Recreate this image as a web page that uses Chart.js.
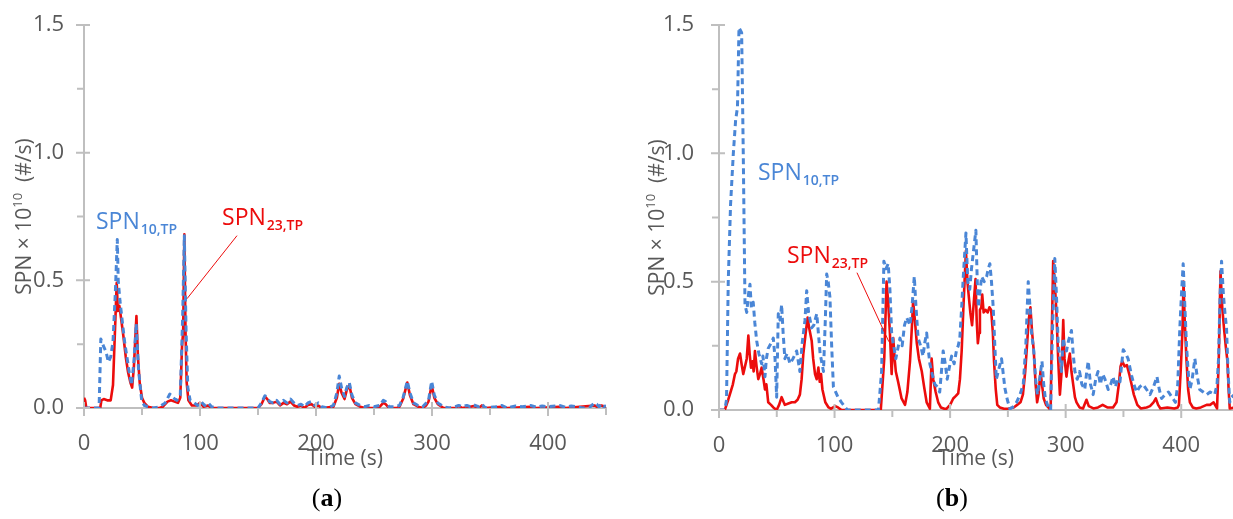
<!DOCTYPE html>
<html>
<head>
<meta charset="utf-8">
<script src="https://cdn.jsdelivr.net/npm/chart.js@4.4.1/dist/chart.umd.min.js"></script>
<style>
  html, body { margin: 0; padding: 0; background: #fff; }
  body { width: 1233px; height: 519px; position: relative; overflow: hidden; }
  canvas { position: absolute; top: 0; }
  #chartA { left: 0; }
  #chartB { left: 620px; }
</style>
</head>
<body>
<canvas id="chartA" width="620" height="519"></canvas>
<canvas id="chartB" width="633" height="519"></canvas>
<script>
// ---- données ----
// (a) SPN10,TP
const timeA10 = [0,13,14.5,17,19,21,23,25,27,28.7,29.5,31,33,35,37,39,41,43,45,47,49.7,52,55,60,65,70,74,77,80,83,85,86.5,88,89.5,91.5,95,98,101,104,107,110,115,150,153,156,158,160,163,166,169,172,175,178,181,184,187,190,193,196,199,202,205,210,215,218,220,222,224.6,226.5,228.7,231,234,238,242,246,250,255,258,260,263,268,272,275,278.7,281,284,288,292,295,297,299.7,302,305,310,315,320,323,326,330,333,336,340,343,346,355,360,365,372,378,385,390,395,400,410,415,420,425,430,436,440,442,444,446,448,450];
const spnA10  = [0,0,0.27,0.24,0.22,0.18,0.2,0.26,0.45,0.66,0.5,0.42,0.34,0.26,0.2,0.14,0.09,0.18,0.33,0.15,0.03,0.01,0.005,0,0.005,0.02,0.055,0.04,0.03,0.05,0.35,0.675,0.3,0.08,0.03,0.02,0.01,0.025,0.01,0.02,0.005,0,0,0.02,0.048,0.04,0.025,0.02,0.03,0.015,0.03,0.02,0.035,0.02,0.01,0.015,0.005,0.02,0.025,0.01,0.02,0.005,0,0.01,0.06,0.125,0.08,0.045,0.08,0.1,0.05,0.02,0.01,0.005,0.01,0.005,0.01,0.03,0.025,0.005,0.005,0.01,0.04,0.105,0.06,0.02,0.01,0.005,0.02,0.03,0.105,0.05,0.02,0.005,0,0.005,0.01,0.005,0.01,0.005,0.012,0.005,0.015,0,0.005,0.01,0,0.008,0.005,0.01,0.003,0.008,0.005,0.01,0.003,0.008,0.005,0,0.003,0.02,0.015,0.005,0.015,0.005,0.01];
// (a) SPN23,TP
const timeA23 = [0,1,2,14,15,17,20,23,25,27,28.2,29.2,30.5,32,34,36,38,40,41.5,43,45.2,46.5,48,50,52,55,60,65,68,72,75,78,81,83,84.5,85.5,86.5,87.5,88.5,90,93,97,100,103,107,110,150,153,156,158,160,163,166,169,172,175,178,181,184,187,190,193,196,199,202,205,215,218,220,222,224.6,226.5,228.7,231,234,238,242,250,255,258,260,263,270,272,275,278.7,281,284,288,292,295,297,299.7,302,305,310,320,323,326,333,336,340,343,346,360,365,385,390,410,415,440,442,446,450];
const spnA23  = [0.04,0.03,0,0,0.03,0.035,0.03,0.03,0.09,0.34,0.49,0.38,0.4,0.35,0.28,0.2,0.14,0.1,0.08,0.16,0.36,0.2,0.1,0.04,0.02,0.005,0,0,0.005,0.025,0.03,0.025,0.02,0.04,0.24,0.3,0.68,0.3,0.1,0.03,0.01,0.01,0.02,0.005,0.01,0,0,0.015,0.045,0.035,0.02,0.02,0.025,0.01,0.02,0.015,0.025,0.01,0.005,0.01,0,0.012,0.015,0.005,0.01,0,0.005,0.04,0.095,0.06,0.035,0.07,0.09,0.04,0.015,0.005,0,0,0.005,0.02,0.015,0,0,0.005,0.035,0.1,0.05,0.015,0.005,0,0.01,0.025,0.09,0.04,0.015,0,0,0.008,0,0.005,0.008,0,0.01,0,0.005,0,0.005,0,0.005,0,0.01,0.005,0.01,0.005];
// (b) SPN10,TP
const timeB10 = [0,5,6.5,8,10,12.4,14.4,16,17.3,19.6,21,22.5,24,25.5,26.8,28,29.6,31,32.6,34.5,36.9,38,39.8,41,42.6,45,47,48.5,49.9,51.3,52.8,54.2,55.5,57,59,61.4,64,67.2,70,72,74.4,75.9,77.5,80.2,82,84.6,86,87.5,90.4,92,93.2,94.5,96,97.5,99,101,103,106,111,138,140.7,142.7,144.5,146.4,147.9,149.4,150.8,153,156.6,158.5,160.5,162.4,165.3,167,169,170.5,172.3,174.5,176.6,178,179.7,181,182.5,184.5,186.8,189,191,192.5,194,195.8,197.5,199.5,201.3,203.5,205.6,207,208.4,210,211.4,213.7,215.3,217,218.5,220,222.3,223.5,224.4,225.8,227.3,229.5,231.6,233,234.4,235.8,237.3,238.7,240,242.2,244.5,246,247.4,249.5,251.7,254,257.5,260.5,263.3,265.5,267.6,269.5,270.5,272.4,274,275.5,277.5,279.5,281,282.4,285,287,288.5,290.6,292,293.5,295,296.4,297.8,299,300.7,302.5,305,306.5,308,310,312,314,316.5,318,319.5,321.5,323.8,326,328,330,332,334,336.8,339,341,343,345,347,348.5,349.8,352,354,357,359,361.4,364,367,370,373,376,379,381,383,386,389,392,395,397,398.8,400.2,401.7,403,404.6,406,407.5,409.5,411.8,413.5,416,419,422,425,429,431,432.3,433.6,434.9,436.5,437.8,439.2,440.5,442,443.5,446];
const spnB10  = [0,0,0.04,0.5,0.8,1.0,1.13,1.18,1.49,1.47,1.0,0.41,0.38,0.45,0.49,0.4,0.42,0.34,0.27,0.22,0.18,0.21,0.13,0.2,0.24,0.26,0.28,0.2,0.05,0.375,0.35,0.41,0.3,0.2,0.22,0.18,0.2,0.23,0.15,0.26,0.35,0.465,0.38,0.32,0.33,0.375,0.3,0.22,0.15,0.35,0.53,0.5,0.44,0.25,0.09,0.07,0.05,0.03,0,0,0.15,0.58,0.55,0.57,0.47,0.3,0.26,0.2,0.28,0.25,0.33,0.36,0.33,0.4,0.52,0.4,0.28,0.25,0.21,0.26,0.3,0.24,0.18,0.14,0.1,0.09,0.07,0.15,0.23,0.18,0.12,0.17,0.21,0.18,0.235,0.25,0.28,0.4,0.52,0.69,0.5,0.47,0.55,0.61,0.7,0.5,0.4,0.46,0.52,0.5,0.52,0.55,0.57,0.5,0.4,0.25,0.12,0.16,0.2,0.14,0.085,0.04,0.005,0.01,0.03,0.06,0.1,0.25,0.5,0.38,0.3,0.23,0.12,0.06,0.12,0.19,0.1,0.045,0.01,0,0.3,0.59,0.45,0.26,0.2,0.15,0.28,0.25,0.23,0.27,0.31,0.22,0.15,0.12,0.15,0.1,0.08,0.14,0.19,0.1,0.06,0.12,0.15,0.1,0.14,0.12,0.08,0.1,0.13,0.09,0.12,0.11,0.18,0.235,0.22,0.2,0.135,0.1,0.07,0.09,0.1,0.08,0.06,0.09,0.13,0.08,0.045,0.06,0.07,0.05,0.03,0.1,0.32,0.45,0.57,0.42,0.25,0.15,0.08,0.12,0.2,0.14,0.08,0.07,0.06,0.07,0.06,0.1,0.2,0.45,0.58,0.45,0.38,0.32,0.15,0.03,0.05,0.06];
// (b) SPN23,TP
const timeB23 = [0,5,6.5,8,10,12,13.8,15,16.5,18.2,19.5,21,22.5,24,25.4,26.5,27.7,29,30,31.1,32.5,34,35.5,36.9,38.5,39.8,41,42.6,45,47,49.9,52,54.2,56,57,60,63,65.7,68,70,71.5,73,75,76.7,78,80.2,81.5,83.1,84.5,86,87.2,88.3,89.5,92,94.8,97,100.6,103,106,140,141.5,143,144,145,146.4,147.9,149.4,150.8,152,153,155,158,161,163,165.3,167,168,169.5,171.2,173,175.5,177.5,179.7,182.5,184,185.4,187.5,189.7,192,195,197,200,202.7,205,207,208.5,210,211.5,213.7,215,216,217.5,219,220.5,222,223,224,225,225.8,227,227.8,229,230.7,232.5,234,235.5,237,238,239.5,240.8,243,246.6,250,255,258,260.9,263,265,266.5,268,269.5,271,272.4,274,275.3,276.5,278.2,279.5,281,283,285,287,288,289.2,290.5,292,293.5,295,296.5,297.9,299,300.7,302,303.6,305,306.5,308,309.4,312,315,318,320,324,328,332,336,341,344,346,347.5,349,351,353,355,357,359,362,365,370,373,376,378,380,382,388,394,397,398,399.5,401,402,403,404.6,406,407.5,410,413,417,422,425,428,431,432.5,434,435.5,437,438.5,440,441,442,446];
const spnB23  = [0,0,0.02,0.04,0.07,0.1,0.14,0.15,0.2,0.22,0.18,0.14,0.17,0.2,0.29,0.22,0.165,0.19,0.15,0.23,0.17,0.12,0.14,0.165,0.12,0.08,0.1,0.03,0.02,0.01,0,0.02,0.05,0.03,0.02,0.025,0.03,0.03,0.04,0.06,0.12,0.22,0.3,0.36,0.32,0.27,0.2,0.14,0.12,0.165,0.11,0.14,0.08,0.03,0.01,0.005,0.015,0.01,0,0,0.1,0.2,0.35,0.5,0.42,0.3,0.14,0.28,0.2,0.15,0.11,0.045,0.02,0.07,0.19,0.33,0.425,0.35,0.26,0.2,0.15,0.09,0.03,0.005,0.2,0.12,0.07,0.03,0.01,0.005,0.005,0.02,0.045,0.055,0.065,0.12,0.23,0.4,0.62,0.5,0.45,0.38,0.33,0.42,0.51,0.35,0.26,0.3,0.39,0.4,0.45,0.38,0.39,0.38,0.4,0.39,0.3,0.19,0.08,0.02,0.01,0.005,0.005,0.01,0.02,0.03,0.06,0.15,0.25,0.35,0.4,0.3,0.23,0.1,0.03,0.06,0.15,0.1,0.045,0.02,0.01,0,0.3,0.58,0.5,0.38,0.2,0.06,0.15,0.35,0.2,0.13,0.18,0.22,0.15,0.1,0.05,0.03,0.01,0.006,0.04,0.015,0.006,0.01,0.02,0.01,0.01,0.03,0.1,0.17,0.19,0.17,0.175,0.14,0.1,0.06,0.02,0.006,0.01,0.015,0.03,0.045,0.02,0.006,0.01,0.006,0.01,0.02,0.15,0.3,0.5,0.35,0.19,0.08,0.03,0.01,0.006,0.01,0.02,0.02,0.03,0.006,0.2,0.54,0.4,0.32,0.25,0.19,0.08,0.006,0.01];

// graduations
const yMajorTicks = [0, 0.5, 1.0, 1.5];
const yMinorTicks = [0.25, 0.75, 1.25];
const xMajorTicks = [0, 100, 200, 300, 400];
const xMinorTicks = [50, 150, 250, 350, 450];

const BLEU = '#4a86d6';
const ROUGE = '#ec0c0c';
const GRIS_TEXTE = '#595959';
const GRIS_AXE = '#bfbfbf';
const POLICE = "'Open Sans', 'Noto Sans', sans-serif";

const toPoints = (xs, ys) => xs.map((t, i) => ({ x: t, y: ys[i] }));

// plugin maison : graduations, titres d'axes, étiquettes et légende (a)/(b)
const decor = {
  id: 'decor',
  afterDraw(chart, args, o) {
    const { ctx, chartArea: ca, scales: { x, y } } = chart;
    ctx.save();
    // graduations
    ctx.strokeStyle = GRIS_AXE;
    ctx.lineWidth = 2;
    ctx.beginPath();
    yMajorTicks.forEach(v => { const p = y.getPixelForValue(v); ctx.moveTo(ca.left - 8, p); ctx.lineTo(ca.left + 6, p); });
    yMinorTicks.forEach(v => { const p = y.getPixelForValue(v); ctx.moveTo(ca.left - 7, p); ctx.lineTo(ca.left, p); });
    xMajorTicks.forEach(v => { const p = x.getPixelForValue(v); ctx.moveTo(p, ca.bottom - 6); ctx.lineTo(p, ca.bottom + 8); });
    xMinorTicks.forEach(v => { if (v <= x.max) { const p = x.getPixelForValue(v); ctx.moveTo(p, ca.bottom); ctx.lineTo(p, ca.bottom + 7); } });
    ctx.stroke();

    // titre axe X
    ctx.fillStyle = GRIS_TEXTE;
    ctx.font = `21px ${POLICE}`;
    ctx.textAlign = 'center';
    ctx.textBaseline = 'alphabetic';
    ctx.fillText('Time (s)', (ca.left + ca.right) / 2 + o.xTitleShift, o.xTitleY);

    // titre axe Y (tourné) avec exposant
    ctx.save();
    ctx.translate(o.yTitleX, (ca.top + ca.bottom) / 2);
    ctx.rotate(-Math.PI / 2);
    const p1 = 'SPN × 10', p2 = '10', p3 = '  (#/s)';
    ctx.font = `21px ${POLICE}`;
    const w1 = ctx.measureText(p1).width, w3 = ctx.measureText(p3).width;
    ctx.font = `13px ${POLICE}`;
    const w2 = ctx.measureText(p2).width;
    let cx = -(w1 + w2 + w3) / 2;
    ctx.textAlign = 'left';
    ctx.font = `21px ${POLICE}`;
    ctx.fillText(p1, cx, 7); cx += w1;
    ctx.font = `13px ${POLICE}`;
    ctx.fillText(p2, cx, -2); cx += w2;
    ctx.font = `21px ${POLICE}`;
    ctx.fillText(p3, cx, 7);
    ctx.restore();

    // trait de rappel
    if (o.pointer) {
      const [t1, v1, t2, v2] = o.pointer;
      ctx.strokeStyle = ROUGE;
      ctx.lineWidth = 1;
      ctx.beginPath();
      ctx.moveTo(x.getPixelForValue(t1), y.getPixelForValue(v1));
      ctx.lineTo(x.getPixelForValue(t2), y.getPixelForValue(v2));
      ctx.stroke();
    }

    // étiquettes des séries
    o.labels.forEach(l => {
      const px = x.getPixelForValue(l.t), py = y.getPixelForValue(l.v);
      ctx.fillStyle = l.color;
      ctx.textAlign = 'left';
      ctx.font = `23px ${POLICE}`;
      ctx.fillText(l.text, px, py);
      const w = ctx.measureText(l.text).width;
      ctx.font = `600 14px ${POLICE}`;
      ctx.fillText(l.sub, px + w + 1, py + 5);
    });

    // (a) / (b)
    const serif = "'Liberation Serif', 'DejaVu Serif', serif";
    ctx.fillStyle = '#000';
    ctx.font = `26px ${serif}`;
    const wp = ctx.measureText('(').width;
    ctx.font = `bold 26px ${serif}`;
    const wl = ctx.measureText(o.caption).width;
    let sx = o.captionX - (2 * wp + wl) / 2;
    ctx.textAlign = 'left';
    ctx.font = `26px ${serif}`;
    ctx.fillText('(', sx, 506);
    ctx.font = `bold 26px ${serif}`;
    ctx.fillText(o.caption, sx + wp, 506);
    ctx.font = `26px ${serif}`;
    ctx.fillText(')', sx + wp + wl, 506);
    ctx.restore();
  }
};

function construireGraphe(id, t10, s10, t23, s23, cfg) {
  const H = 519;
  return new Chart(document.getElementById(id), {
    type: 'line',
    data: {
      datasets: [
        {
          label: 'SPN10,TP', data: toPoints(t10, s10), order: 0,
          borderColor: BLEU, borderWidth: 3, borderDash: [6, 4],
          pointRadius: 0, tension: 0, borderJoinStyle: 'round'
        },
        {
          label: 'SPN23,TP', data: toPoints(t23, s23), order: 1,
          borderColor: ROUGE, borderWidth: 2.6,
          pointRadius: 0, tension: 0, borderJoinStyle: 'round'
        }
      ]
    },
    options: {
      responsive: false,
      animation: false,
      devicePixelRatio: 1,
      layout: { padding: { left: 0, top: 25, right: 14, bottom: 0 } },
      plugins: { legend: { display: false }, tooltip: { enabled: false }, decor: cfg },
      scales: {
        x: {
          type: 'linear', min: 0, max: 450,
          grid: { display: false },
          border: { display: true, color: GRIS_AXE, width: 2 },
          ticks: {
            stepSize: 100, includeBounds: false, padding: 15,
            color: GRIS_TEXTE, font: { size: 22, family: POLICE }
          },
          afterFit: s => { s.height = H - cfg.bottom; }
        },
        y: {
          min: 0, max: 1.5,
          grid: { display: false },
          border: { display: true, color: GRIS_AXE, width: 2 },
          ticks: {
            stepSize: 0.5, padding: cfg.yPad,
            color: GRIS_TEXTE, font: { size: 22, family: POLICE },
            callback: v => v.toFixed(1)
          },
          // largeur fixe, et pas de marge haute/basse imposée par les étiquettes
          afterFit: s => { s.width = cfg.left; s.paddingTop = 0; s.paddingBottom = 0; }
        }
      }
    },
    plugins: [decor]
  });
}

document.addEventListener('DOMContentLoaded', () => {
  construireGraphe('chartA', timeA10, spnA10, timeA23, spnA23, {
    left: 84, bottom: 408, yPad: 12,
    xTitleY: 465, xTitleShift: 0, yTitleX: 24, caption: 'a', captionX: 327,
    pointer: [131.9, 0.675, 88.8, 0.428],
    labels: [
      { text: 'SPN', sub: '10,TP', color: BLEU, t: 10.3, v: 0.70 },
      { text: 'SPN', sub: '23,TP', color: ROUGE, t: 119, v: 0.715 }
    ]
  });
  // le panneau (b) déborde à droite de la page, comme dans la figure d'origine
  construireGraphe('chartB', timeB10, spnB10, timeB23, spnB23, {
    left: 99, bottom: 410, yPad: 17,
    xTitleY: 465, xTitleShift: -3, yTitleX: 37, caption: 'b', captionX: 332,
    pointer: [119.4, 0.535, 147, 0.266],
    labels: [
      { text: 'SPN', sub: '10,TP', color: BLEU, t: 33.7, v: 0.895 },
      { text: 'SPN', sub: '23,TP', color: ROUGE, t: 58.8, v: 0.574 }
    ]
  });
});
</script>
</body>
</html>
